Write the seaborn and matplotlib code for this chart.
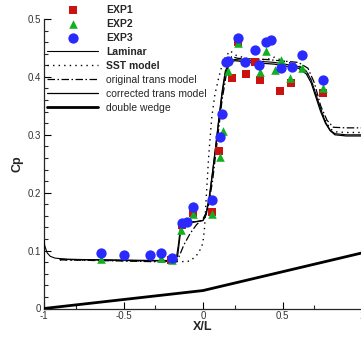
import matplotlib
matplotlib.use("Agg")
import matplotlib.pyplot as plt
import seaborn as sns
import pandas as pd
from matplotlib.ticker import FixedLocator

# ---------------- data ----------------
exp1_x = [-0.2, -0.135, -0.065, 0.055, 0.103, 0.18, 0.218, 0.27, 0.327, 0.358, 0.487, 0.552, 0.755]
exp1_cp = [0.084, 0.144, 0.165, 0.166, 0.272, 0.398, 0.46, 0.405, 0.425, 0.395, 0.376, 0.39, 0.372]

exp2_x = [-0.643, -0.266, -0.197, -0.14, -0.065, 0.055, 0.105, 0.125, 0.16, 0.218, 0.36, 0.395, 0.455, 0.49, 0.55, 0.622, 0.755]
exp2_cp = [0.086, 0.087, 0.083, 0.136, 0.163, 0.163, 0.262, 0.307, 0.41, 0.458, 0.408, 0.445, 0.412, 0.43, 0.398, 0.416, 0.38]

exp3_x = [-0.643, -0.497, -0.333, -0.266, -0.197, -0.13, -0.10, -0.065, 0.055, 0.105, 0.118, 0.145,
          0.16, 0.218, 0.264, 0.327, 0.355, 0.395, 0.43, 0.49, 0.558, 0.622, 0.755]
exp3_cp = [0.095, 0.092, 0.092, 0.096, 0.088, 0.147, 0.150, 0.175, 0.188, 0.296, 0.336, 0.425,
           0.428, 0.468, 0.425, 0.446, 0.42, 0.46, 0.463, 0.416, 0.417, 0.438, 0.394]

lam_x = [-1.0, -1.0, -0.995, -0.98, -0.96, -0.93, -0.85, -0.6, -0.3, -0.17, -0.155, -0.14, -0.12,
         -0.05, 0.0, 0.02, 0.04, 0.06, 0.08, 0.10, 0.12, 0.14, 0.17, 0.2, 0.3, 0.45, 0.6, 0.65,
         0.68, 0.71, 0.74, 0.77, 0.8, 0.83, 0.9, 1.0]
lam_cp = [0.065, 0.118, 0.108, 0.096, 0.09, 0.087, 0.085, 0.084, 0.083, 0.083, 0.11, 0.145, 0.15,
          0.15, 0.152, 0.165, 0.195, 0.235, 0.28, 0.33, 0.375, 0.41, 0.428, 0.43, 0.428, 0.425, 0.418,
          0.41, 0.395, 0.37, 0.345, 0.322, 0.308, 0.302, 0.3, 0.3]

sst_x = [-0.9, -0.3, -0.12, -0.08, -0.04, -0.01, 0.0, 0.01, 0.02, 0.035, 0.055, 0.075, 0.1, 0.13,
         0.17, 0.21, 0.3, 0.4, 0.45, 0.5, 0.6, 0.65, 0.68, 0.71, 0.74, 0.77, 0.8, 0.84, 0.9, 1.0]
sst_cp = [0.084, 0.082, 0.081, 0.082, 0.092, 0.105, 0.115, 0.14, 0.19, 0.26, 0.33, 0.37, 0.4, 0.43,
          0.445, 0.437, 0.43, 0.43, 0.434, 0.428, 0.42, 0.41, 0.395, 0.37, 0.345, 0.325, 0.31, 0.305,
          0.304, 0.304]

orig_x = [-0.9, -0.5, -0.17, -0.15, -0.12, -0.08, -0.04, 0.0, 0.03, 0.06, 0.09, 0.12, 0.15, 0.18,
          0.22, 0.4, 0.6, 0.66, 0.7, 0.74, 0.78, 0.82, 0.9, 1.0]
orig_cp = [0.084, 0.082, 0.08, 0.09, 0.11, 0.13, 0.145, 0.155, 0.17, 0.22, 0.29, 0.36, 0.41, 0.435,
           0.432, 0.43, 0.425, 0.415, 0.39, 0.35, 0.325, 0.313, 0.312, 0.312]

corr_x = [-0.9, -0.5, -0.2, -0.16, -0.14, -0.12, -0.06, 0.0, 0.02, 0.04, 0.06, 0.08, 0.1, 0.12, 0.14,
          0.17, 0.2, 0.3, 0.45, 0.6, 0.65, 0.68, 0.71, 0.74, 0.77, 0.8, 0.83, 0.9, 1.0]
corr_cp = [0.085, 0.083, 0.082, 0.09, 0.135, 0.147, 0.149, 0.152, 0.162, 0.19, 0.235, 0.28, 0.325,
           0.37, 0.405, 0.425, 0.428, 0.425, 0.422, 0.415, 0.405, 0.39, 0.365, 0.34, 0.32, 0.307,
           0.3, 0.298, 0.298]

wedge_x = [-1.0, 0.0, 1.0]
wedge_cp = [0.0, 0.031, 0.096]

legend_labels = ["EXP1", "EXP2", "EXP3", "Laminar", "SST model", "original trans model",
                 "corrected trans model", "double wedge"]
x_ticks = [-1, -0.5, 0, 0.5, 1]
x_ticklabels = ["-1", "-0.5", "0", "0.5", "1"]
y_ticks = [0, 0.1, 0.2, 0.3, 0.4, 0.5]
y_ticklabels = ["0", "0.1", "0.2", "0.3", "0.4", "0.5"]

# ---------------- plot ----------------
sns.set_style("ticks")
plt.rcParams["font.family"] = ["Liberation Sans", "DejaVu Sans"]

fig = plt.figure(figsize=(3.61, 3.37), dpi=100)
ax = fig.add_axes([44 / 361, (337 - 308.5) / 337, (362 - 44) / 361, (308.5 - 19) / 337])

def line(x, y, **kw):
    df = pd.DataFrame({"x": x, "y": y})
    sns.lineplot(data=df, x="x", y="y", estimator=None, sort=False, ax=ax, **kw)

line(wedge_x, wedge_cp, color="black", lw=2.0, label=legend_labels[7], zorder=3)
line(lam_x, lam_cp, color="black", lw=0.8, label=legend_labels[3], zorder=3)
line(sst_x, sst_cp, color="black", lw=1.0, linestyle=(0, (1, 3)), label=legend_labels[4], zorder=3)
line(orig_x, orig_cp, color="black", lw=0.9, linestyle=(0, (6, 2, 1.2, 2)), label=legend_labels[5], zorder=3)
line(corr_x, corr_cp, color="black", lw=0.9, label=legend_labels[6], zorder=3)

sns.scatterplot(x=exp1_x, y=exp1_cp, marker="s", s=34, color="#cc1111", linewidth=0,
                ax=ax, label=legend_labels[0], zorder=4)
sns.scatterplot(x=exp2_x, y=exp2_cp, marker="^", s=38, color="#10b020", linewidth=0,
                ax=ax, label=legend_labels[1], zorder=5)
sns.scatterplot(x=exp3_x, y=exp3_cp, marker="o", s=55, color="#2a2aff", linewidth=0,
                ax=ax, label=legend_labels[2], zorder=6)

ax.set_xlim(-1, 1)
ax.set_ylim(0, 0.5)
ax.set_xticks(x_ticks)
ax.set_xticklabels(x_ticklabels)
ax.set_yticks(y_ticks)
ax.set_yticklabels(y_ticklabels)
ax.xaxis.set_minor_locator(FixedLocator([-0.8, -0.3, 0.2, 0.7]))
ax.yaxis.set_minor_locator(FixedLocator([i * 0.02 for i in range(26)]))
ax.tick_params(which="major", direction="in", length=5, width=0.8, labelsize=7, colors="black",
               labelcolor="#333333", pad=2)
ax.tick_params(which="minor", direction="in", length=3, width=0.8)
for s in ["top", "right"]:
    ax.spines[s].set_visible(False)
for s in ["left", "bottom"]:
    ax.spines[s].set_linewidth(0.9)
ax.set_xlabel("X/L", fontsize=9, fontweight="bold", labelpad=0)
ax.set_ylabel("Cp", fontsize=9, fontweight="bold", labelpad=3)

handles, labels = ax.get_legend_handles_labels()
hmap = dict(zip(labels, handles))
if ax.get_legend() is not None:
    ax.get_legend().remove()
leg = fig.legend([hmap[l] for l in legend_labels], legend_labels, loc="upper left",
                 bbox_to_anchor=(47 / 361, 1 - 5 / 337), frameon=False, fontsize=7.5,
                 handlelength=4.9, handletextpad=0.8, labelspacing=0.38, borderpad=0,
                 borderaxespad=0)
for i, t in enumerate(leg.get_texts()):
    if i < 5:
        t.set_fontweight("bold")

fig.savefig("out.png", dpi=100)
